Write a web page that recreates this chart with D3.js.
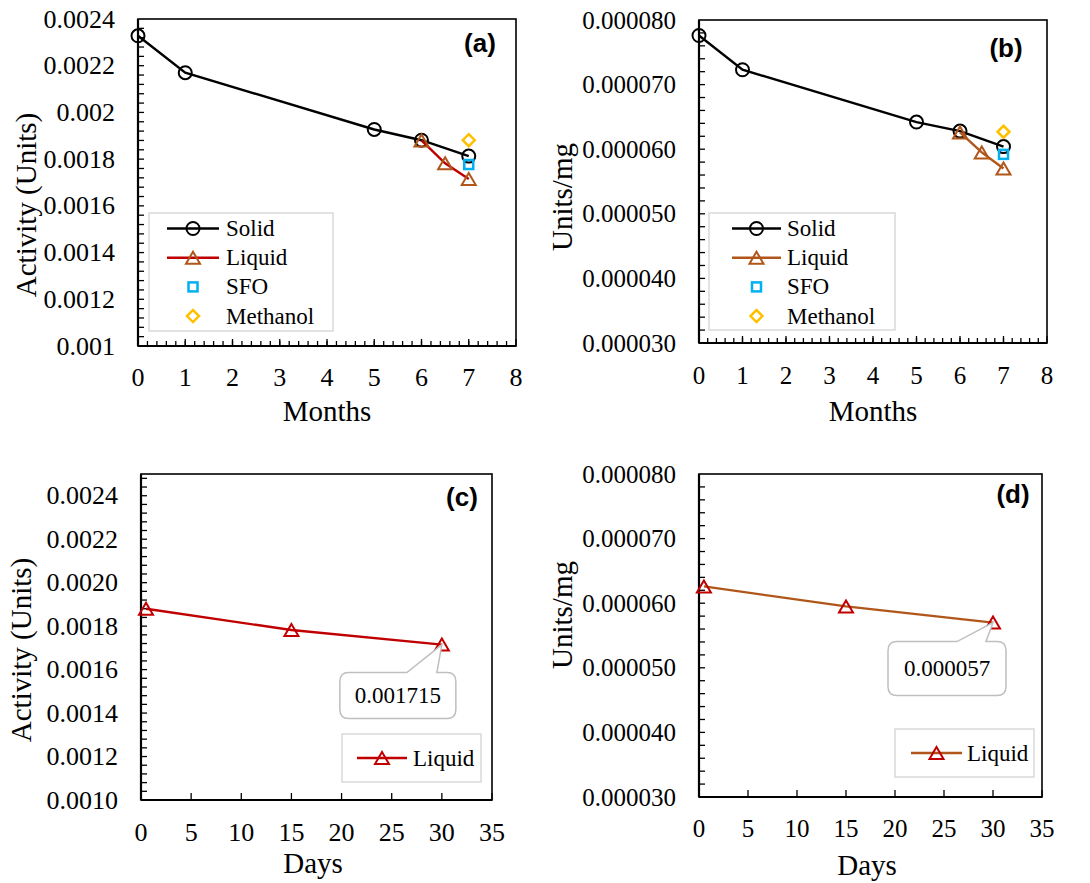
<!DOCTYPE html>
<html>
<head>
<meta charset="utf-8">
<script src="https://cdn.jsdelivr.net/npm/d3@7"></script>
<style>
  html, body { margin: 0; padding: 0; background: #fff; }
  svg { display: block; }
</style>
</head>
<body>
<svg id="chart" width="1090" height="883"></svg>
<script>
// Storage stability of the enzyme preparation
const monthsSolid = [0, 1, 5, 6, 7];
const monthsLiquid = [6, 6.5, 7];
const monthsExtra = [7];
const days = [0.5, 15, 30];

// Activity (Units)
const solidActivity = [0.002328, 0.00217, 0.001927, 0.001881, 0.001813];
const liquidActivity = [0.00188, 0.001782, 0.001715];
const sfoActivity = [0.001777];
const methanolActivity = [0.001881];

// Specific activity (Units/mg)
const solidSpecific = [0.0000776, 0.0000723, 0.0000642, 0.0000628, 0.0000604];
const liquidSpecific = [0.0000626, 0.0000595, 0.000057];
const sfoSpecific = [0.0000592];
const methanolSpecific = [0.0000627];

// Tick values
const monthTicks = [0, 1, 2, 3, 4, 5, 6, 7, 8];
const dayTicks = [0, 5, 10, 15, 20, 25, 30, 35];
const activityTicks = [0.001, 0.0012, 0.0014, 0.0016, 0.0018, 0.002, 0.0022, 0.0024];
const specificTicks = [0.00003, 0.00004, 0.00005, 0.00006, 0.00007, 0.00008];

const seriesNames = ["Solid", "Liquid", "SFO", "Methanol"];

const RED = "#C00000", BROWN = "#B0561A", BLUE = "#00B0F0", GOLD = "#FFC000";
const SERIF = "'Liberation Serif', 'Times New Roman', serif";
const SANS = "'Liberation Sans', Arial, sans-serif";
const TITLE_SIZE = 29, LEGEND_SIZE = 23;

const svg = d3.select("#chart");

function addText(g, x, y, str, size, opts = {}) {
  return g.append("text").attr("x", x).attr("y", y)
    .attr("text-anchor", opts.anchor || "start")
    .attr("dominant-baseline", "central")
    .style("font-family", opts.family || SERIF)
    .style("font-size", size + "px")
    .style("font-weight", opts.weight || "normal")
    .style("fill", "#000")
    .text(str);
}

function trianglePath(cx, cy, w, h) {
  return `M${cx},${cy - h / 2}L${cx + w / 2},${cy + h / 2}L${cx - w / 2},${cy + h / 2}Z`;
}

function drawMarker(g, type, cx, cy, color) {
  if (type === "circle") {
    g.append("circle").attr("cx", cx).attr("cy", cy).attr("r", 6.5)
      .attr("fill", "none").attr("stroke", color).attr("stroke-width", 2);
  } else if (type === "triangle") {
    g.append("path").attr("d", trianglePath(cx, cy, 14, 12))
      .attr("fill", "none").attr("stroke", color).attr("stroke-width", 2);
  } else if (type === "square") {
    g.append("rect").attr("x", cx - 4.5).attr("y", cy - 4.5).attr("width", 9).attr("height", 9)
      .attr("fill", "none").attr("stroke", color).attr("stroke-width", 2.5);
  } else if (type === "diamond") {
    g.append("path").attr("d", `M${cx},${cy - 6}L${cx + 6},${cy}L${cx},${cy + 6}L${cx - 6},${cy}Z`)
      .attr("fill", "none").attr("stroke", color).attr("stroke-width", 2.5);
  }
}

function drawPanel(p) {
  const g = svg.append("g");
  const x = d3.scaleLinear().domain(p.xDomain).range([p.left, p.right]);
  const y = d3.scaleLinear().domain(p.yDomain).range([p.bottom, p.top]);

  // minor ticks (inside)
  if (p.xMinorStep) {
    const n = Math.round((p.xDomain[1] - p.xDomain[0]) / p.xMinorStep);
    for (let i = 1; i < n; i++) {
      const v = p.xDomain[0] + i * p.xMinorStep;
      g.append("line").attr("x1", x(v)).attr("x2", x(v)).attr("y1", p.bottom).attr("y2", p.bottom - 5)
        .attr("stroke", "#000").attr("stroke-width", 1.3);
    }
  }
  const ny = Math.round((p.yDomain[1] - p.yDomain[0]) / p.yMinorStep);
  for (let i = 1; i < ny; i++) {
    const v = p.yDomain[0] + i * p.yMinorStep;
    g.append("line").attr("x1", p.left).attr("x2", p.left + 6).attr("y1", y(v)).attr("y2", y(v))
      .attr("stroke", "#000").attr("stroke-width", 1.3);
  }
  // major x ticks (inside)
  p.xTicks.forEach(v => {
    g.append("line").attr("x1", x(v)).attr("x2", x(v)).attr("y1", p.bottom).attr("y2", p.bottom - 7)
      .attr("stroke", "#000").attr("stroke-width", 1.3);
  });

  // frame
  g.append("rect").attr("x", p.left).attr("y", p.top)
    .attr("width", p.right - p.left).attr("height", p.bottom - p.top)
    .attr("fill", "none").attr("stroke", "#000").attr("stroke-width", 1.6);
  g.append("line").attr("x1", p.left).attr("x2", p.right).attr("y1", p.bottom).attr("y2", p.bottom)
    .attr("stroke", "#000").attr("stroke-width", 2.2);
  g.append("line").attr("x1", p.left).attr("x2", p.left).attr("y1", p.top).attr("y2", p.bottom)
    .attr("stroke", "#000").attr("stroke-width", 2.2);

  // tick labels
  p.xTicks.forEach(v => addText(g, x(v), p.bottom + p.xLabelOffset, String(v), p.tickSize, { anchor: "middle" }));
  p.yTicks.forEach(v => addText(g, p.left - 23, y(v), p.yFormat(v), p.tickSize, { anchor: "end" }));

  // axis titles
  addText(g, p.xTitle[0], p.xTitle[1], p.xLabel, TITLE_SIZE, { anchor: "middle" });
  addText(g, 0, 0, p.yLabel, TITLE_SIZE, { anchor: "middle" })
    .attr("transform", `translate(${p.yTitle[0]},${p.yTitle[1]}) rotate(-90)`);

  // series
  const line = d3.line().x(d => x(d[0])).y(d => y(d[1]));
  p.series.forEach(s => {
    const pts = s.xs.map((v, i) => [v, s.ys[i]]);
    if (s.lineColor) {
      g.append("path").attr("d", line(pts)).attr("fill", "none")
        .attr("stroke", s.lineColor).attr("stroke-width", 2.4);
    }
    pts.forEach(d => drawMarker(g, s.marker, x(d[0]), y(d[1]), s.markerColor));
  });

  // data callout on the last liquid point
  if (p.callout) {
    const c = p.callout;
    const px = x(c.at[0]), py = y(c.at[1]);
    const x0 = px + c.box[0], x1 = px + c.box[1], y0 = py + c.box[2], y1 = py + c.box[3];
    const n0 = px + c.notch[0], n1 = px + c.notch[1], r = 9;
    const d = `M${x0 + r},${y0}L${n0},${y0}L${px},${py}L${n1},${y0}L${x1 - r},${y0}` +
      `Q${x1},${y0} ${x1},${y0 + r}L${x1},${y1 - r}Q${x1},${y1} ${x1 - r},${y1}` +
      `L${x0 + r},${y1}Q${x0},${y1} ${x0},${y1 - r}L${x0},${y0 + r}Q${x0},${y0} ${x0 + r},${y0}Z`;
    g.append("path").attr("d", d).attr("fill", "#fff").attr("stroke", "#BFBFBF").attr("stroke-width", 1.5);
    addText(g, (x0 + x1) / 2, (y0 + y1) / 2, c.text, LEGEND_SIZE, { anchor: "middle" });
  }

  // legend
  const L = p.legend;
  g.append("rect").attr("x", L.x).attr("y", L.y).attr("width", L.w).attr("height", L.h)
    .attr("fill", "#fff").attr("stroke", "#D9D9D9").attr("stroke-width", 1.5);
  L.items.forEach((it, i) => {
    const cy = L.firstY + i * L.step;
    if (it.lineColor) {
      g.append("line").attr("x1", L.lineX0).attr("x2", L.lineX1).attr("y1", cy).attr("y2", cy)
        .attr("stroke", it.lineColor).attr("stroke-width", 2.4);
    }
    drawMarker(g, it.marker, (L.lineX0 + L.lineX1) / 2, cy, it.markerColor);
    addText(g, L.textX, cy, it.name, LEGEND_SIZE);
  });

  // panel tag
  addText(g, p.tag[0], p.tag[1], p.tag[2], 26, { anchor: "middle", family: SANS, weight: "bold" });
}

const fmtGeneral = v => String(+v.toFixed(6));
const fmt4 = v => v.toFixed(4);
const fmt6 = v => v.toFixed(6);

// (a) Activity vs months
drawPanel({
  left: 138, right: 516, top: 19, bottom: 346, tickSize: 26,
  xDomain: [0, 8], yDomain: [0.001, 0.0024],
  xTicks: monthTicks, xMinorStep: 0.2, yTicks: activityTicks, yMinorStep: 0.00004,
  yFormat: fmtGeneral, xLabelOffset: 31,
  xLabel: "Months", xTitle: [327, 411], yLabel: "Activity (Units)", yTitle: [26, 205],
  series: [
    { xs: monthsSolid, ys: solidActivity, lineColor: "#000", marker: "circle", markerColor: "#000" },
    { xs: monthsLiquid, ys: liquidActivity, lineColor: RED, marker: "triangle", markerColor: BROWN },
    { xs: monthsExtra, ys: sfoActivity, marker: "square", markerColor: BLUE },
    { xs: monthsExtra, ys: methanolActivity, marker: "diamond", markerColor: GOLD }
  ],
  legend: {
    x: 149, y: 213, w: 184, h: 118, firstY: 228.5, step: 29.2,
    lineX0: 167, lineX1: 219, textX: 226,
    items: [
      { name: seriesNames[0], lineColor: "#000", marker: "circle", markerColor: "#000" },
      { name: seriesNames[1], lineColor: RED, marker: "triangle", markerColor: BROWN },
      { name: seriesNames[2], marker: "square", markerColor: BLUE },
      { name: seriesNames[3], marker: "diamond", markerColor: GOLD }
    ]
  },
  tag: [480, 43, "(a)"]
});

// (b) Specific activity vs months
drawPanel({
  left: 699, right: 1047, top: 20, bottom: 343, tickSize: 25,
  xDomain: [0, 8], yDomain: [0.00003, 0.00008],
  xTicks: monthTicks, xMinorStep: 0.2, yTicks: specificTicks, yMinorStep: 0.000002,
  yFormat: fmt6, xLabelOffset: 32,
  xLabel: "Months", xTitle: [873, 411], yLabel: "Units/mg", yTitle: [562, 197],
  series: [
    { xs: monthsSolid, ys: solidSpecific, lineColor: "#000", marker: "circle", markerColor: "#000" },
    { xs: monthsLiquid, ys: liquidSpecific, lineColor: BROWN, marker: "triangle", markerColor: BROWN },
    { xs: monthsExtra, ys: sfoSpecific, marker: "square", markerColor: BLUE },
    { xs: monthsExtra, ys: methanolSpecific, marker: "diamond", markerColor: GOLD }
  ],
  legend: {
    x: 709, y: 213, w: 186, h: 117, firstY: 228.5, step: 29.2,
    lineX0: 732, lineX1: 781, textX: 787,
    items: [
      { name: seriesNames[0], lineColor: "#000", marker: "circle", markerColor: "#000" },
      { name: seriesNames[1], lineColor: BROWN, marker: "triangle", markerColor: BROWN },
      { name: seriesNames[2], marker: "square", markerColor: BLUE },
      { name: seriesNames[3], marker: "diamond", markerColor: GOLD }
    ]
  },
  tag: [1006, 48, "(b)"]
});

// (c) Liquid activity vs days
drawPanel({
  left: 141, right: 492, top: 474, bottom: 800, tickSize: 26,
  xDomain: [0, 35], yDomain: [0.001, 0.0025],
  xTicks: dayTicks, xMinorStep: null, yTicks: activityTicks, yMinorStep: 0.00004,
  yFormat: fmt4, xLabelOffset: 32,
  xLabel: "Days", xTitle: [313, 863], yLabel: "Activity (Units)", yTitle: [21, 650],
  series: [
    { xs: days, ys: liquidActivity, lineColor: RED, marker: "triangle", markerColor: RED }
  ],
  callout: { at: [days[2], liquidActivity[2]], text: String(liquidActivity[2]),
             box: [-102, 14, 28, 74], notch: [-35, -5] },
  legend: {
    x: 342, y: 734, w: 139, h: 48, firstY: 758, step: 0,
    lineX0: 357, lineX1: 407, textX: 413,
    items: [{ name: seriesNames[1], lineColor: RED, marker: "triangle", markerColor: RED }]
  },
  tag: [462, 497, "(c)"]
});

// (d) Liquid specific activity vs days
drawPanel({
  left: 699, right: 1042, top: 474, bottom: 797, tickSize: 25,
  xDomain: [0, 35], yDomain: [0.00003, 0.00008],
  xTicks: dayTicks, xMinorStep: null, yTicks: specificTicks, yMinorStep: 0.000002,
  yFormat: fmt6, xLabelOffset: 31,
  xLabel: "Days", xTitle: [867, 865], yLabel: "Units/mg", yTitle: [562, 615],
  series: [
    { xs: days, ys: liquidSpecific, lineColor: BROWN, marker: "triangle", markerColor: RED }
  ],
  callout: { at: [days[2], liquidSpecific[2]], text: fmt6(liquidSpecific[2]),
             box: [-105, 13, 19, 73], notch: [-36, -7] },
  legend: {
    x: 895, y: 729, w: 139, h: 48, firstY: 753, step: 0,
    lineX0: 911, lineX1: 962, textX: 967,
    items: [{ name: seriesNames[1], lineColor: BROWN, marker: "triangle", markerColor: RED }]
  },
  tag: [1013, 494, "(d)"]
});
</script>
</body>
</html>
